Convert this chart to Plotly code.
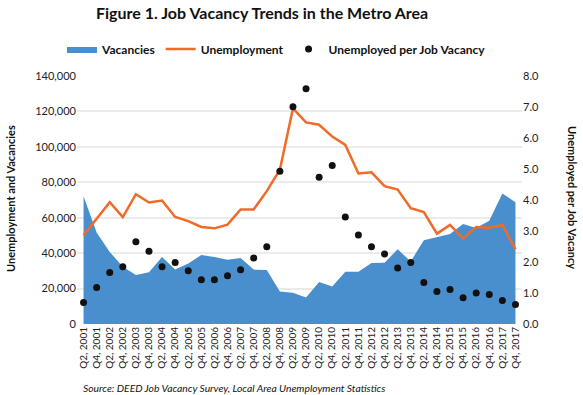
import plotly.graph_objects as go

years = list(range(2001, 2018))
quarters = [f"{q}, {y}" for y in years for q in ("Q2", "Q4")]

vacancies = [72100, 51600, 40700, 32300, 27700, 29200, 37800, 30700, 34200, 38900,
             37800, 36300, 37200, 30700, 30500, 18300, 17600, 15000, 23700, 21100,
             29500, 29500, 34400, 34600, 42200, 35300, 47300, 49200, 50800, 56400,
             54200, 58300, 73600, 68800]
unemployment = [50100, 59400, 68800, 60400, 73300, 68600, 69700, 60400, 58100, 54800,
                54000, 56100, 64700, 64700, 75000, 87100, 121700, 113800, 112500, 105800,
                101100, 85000, 85600, 77800, 75900, 65400, 63200, 51000, 55900, 48200,
                54800, 54400, 55900, 42200]
ratio = [0.69, 1.18, 1.66, 1.85, 2.65, 2.35, 1.85, 1.98, 1.72, 1.43,
         1.43, 1.56, 1.75, 2.13, 2.49, 4.93, 7.01, 7.59, 4.73, 5.11,
         3.45, 2.87, 2.49, 2.26, 1.81, 1.98, 1.34, 1.05, 1.11, 0.85,
         1.00, 0.95, 0.76, 0.63]

FONT = "Lato"
BLUE = "#4A8FCD"
ORANGE = "#F26A27"

L, R, T, B = 77, 61, 76, 71
PW = 583 - L - R
PH = 395 - T - B

def px(x):
    return (x - L) / PW

def py(y):
    return (395 - B - y) / PH

fig = go.Figure()
fig.add_trace(go.Scatter(x=quarters, y=vacancies, name="Vacancies", mode="lines",
                         line=dict(width=0, color=BLUE), fill="tozeroy",
                         fillcolor=BLUE, hoverinfo="skip"))
fig.add_trace(go.Scatter(x=quarters, y=unemployment, name="Unemployment", mode="lines",
                         line=dict(width=2.5, color=ORANGE), hoverinfo="skip"))
fig.add_trace(go.Scatter(x=quarters, y=ratio, name="Unemployed per Job Vacancy",
                         mode="markers", yaxis="y2", hoverinfo="skip",
                         marker=dict(size=7, color="#111111")))

fig.update_layout(
    width=583, height=395,
    margin=dict(l=L, r=R, t=T, b=B, autoexpand=False),
    paper_bgcolor="white", plot_bgcolor="white",
    font=dict(family=FONT, color="#222222", size=11),
    showlegend=True,
    legend=dict(orientation="h", x=px(62), y=py(49), xanchor="left", yanchor="middle",
                font=dict(family=FONT, size=12, color="#111111", weight="bold"),
                itemwidth=30, tracegroupgap=0, bgcolor="rgba(0,0,0,0)"),
    xaxis=dict(type="category", range=[-0.5, 33.5], tickangle=-90, automargin=False,
               tickfont=dict(size=10, color="#222222"), showgrid=False,
               ticks="", showline=False, zeroline=False),
    yaxis=dict(range=[0, 140000], dtick=20000, tickformat=",", showgrid=True,
               gridcolor="#EBEBEB", gridwidth=2, zeroline=False, ticks="",
               automargin=False,
               tickfont=dict(size=11, color="#222222")),
    yaxis2=dict(range=[0, 8], dtick=1, tickformat=".1f", overlaying="y", side="right",
                showgrid=False, zeroline=False, ticks="", automargin=False,
                tickfont=dict(size=11, color="#222222")),
    annotations=[
        dict(text="<b>Figure 1. Job Vacancy Trends in the Metro Area</b>",
             xref="paper", yref="paper", x=px(262), y=py(13),
             xanchor="center", yanchor="middle", showarrow=False,
             font=dict(family=FONT, size=16, color="#111111")),
        dict(text="<b>Unemployment and Vacancies</b>", textangle=-90,
             xref="paper", yref="paper", x=px(10), y=py(199),
             xanchor="center", yanchor="middle", showarrow=False,
             font=dict(family=FONT, size=11, color="#111111")),
        dict(text="<b>Unemployed per Job Vacancy</b>", textangle=90,
             xref="paper", yref="paper", x=px(573), y=py(197),
             xanchor="center", yanchor="middle", showarrow=False,
             font=dict(family=FONT, size=11, color="#111111")),
        dict(text="<i>Source: DEED Job Vacancy Survey, Local Area Unemployment Statistics</i>",
             xref="paper", yref="paper", x=px(81), y=py(388),
             xanchor="left", yanchor="middle", showarrow=False,
             font=dict(family=FONT, size=10.3, color="#111111")),
    ],
)

fig.write_html("out.html", config={"displayModeBar": False},
               post_script="document.body.style.margin='0';document.body.style.padding='0';")
